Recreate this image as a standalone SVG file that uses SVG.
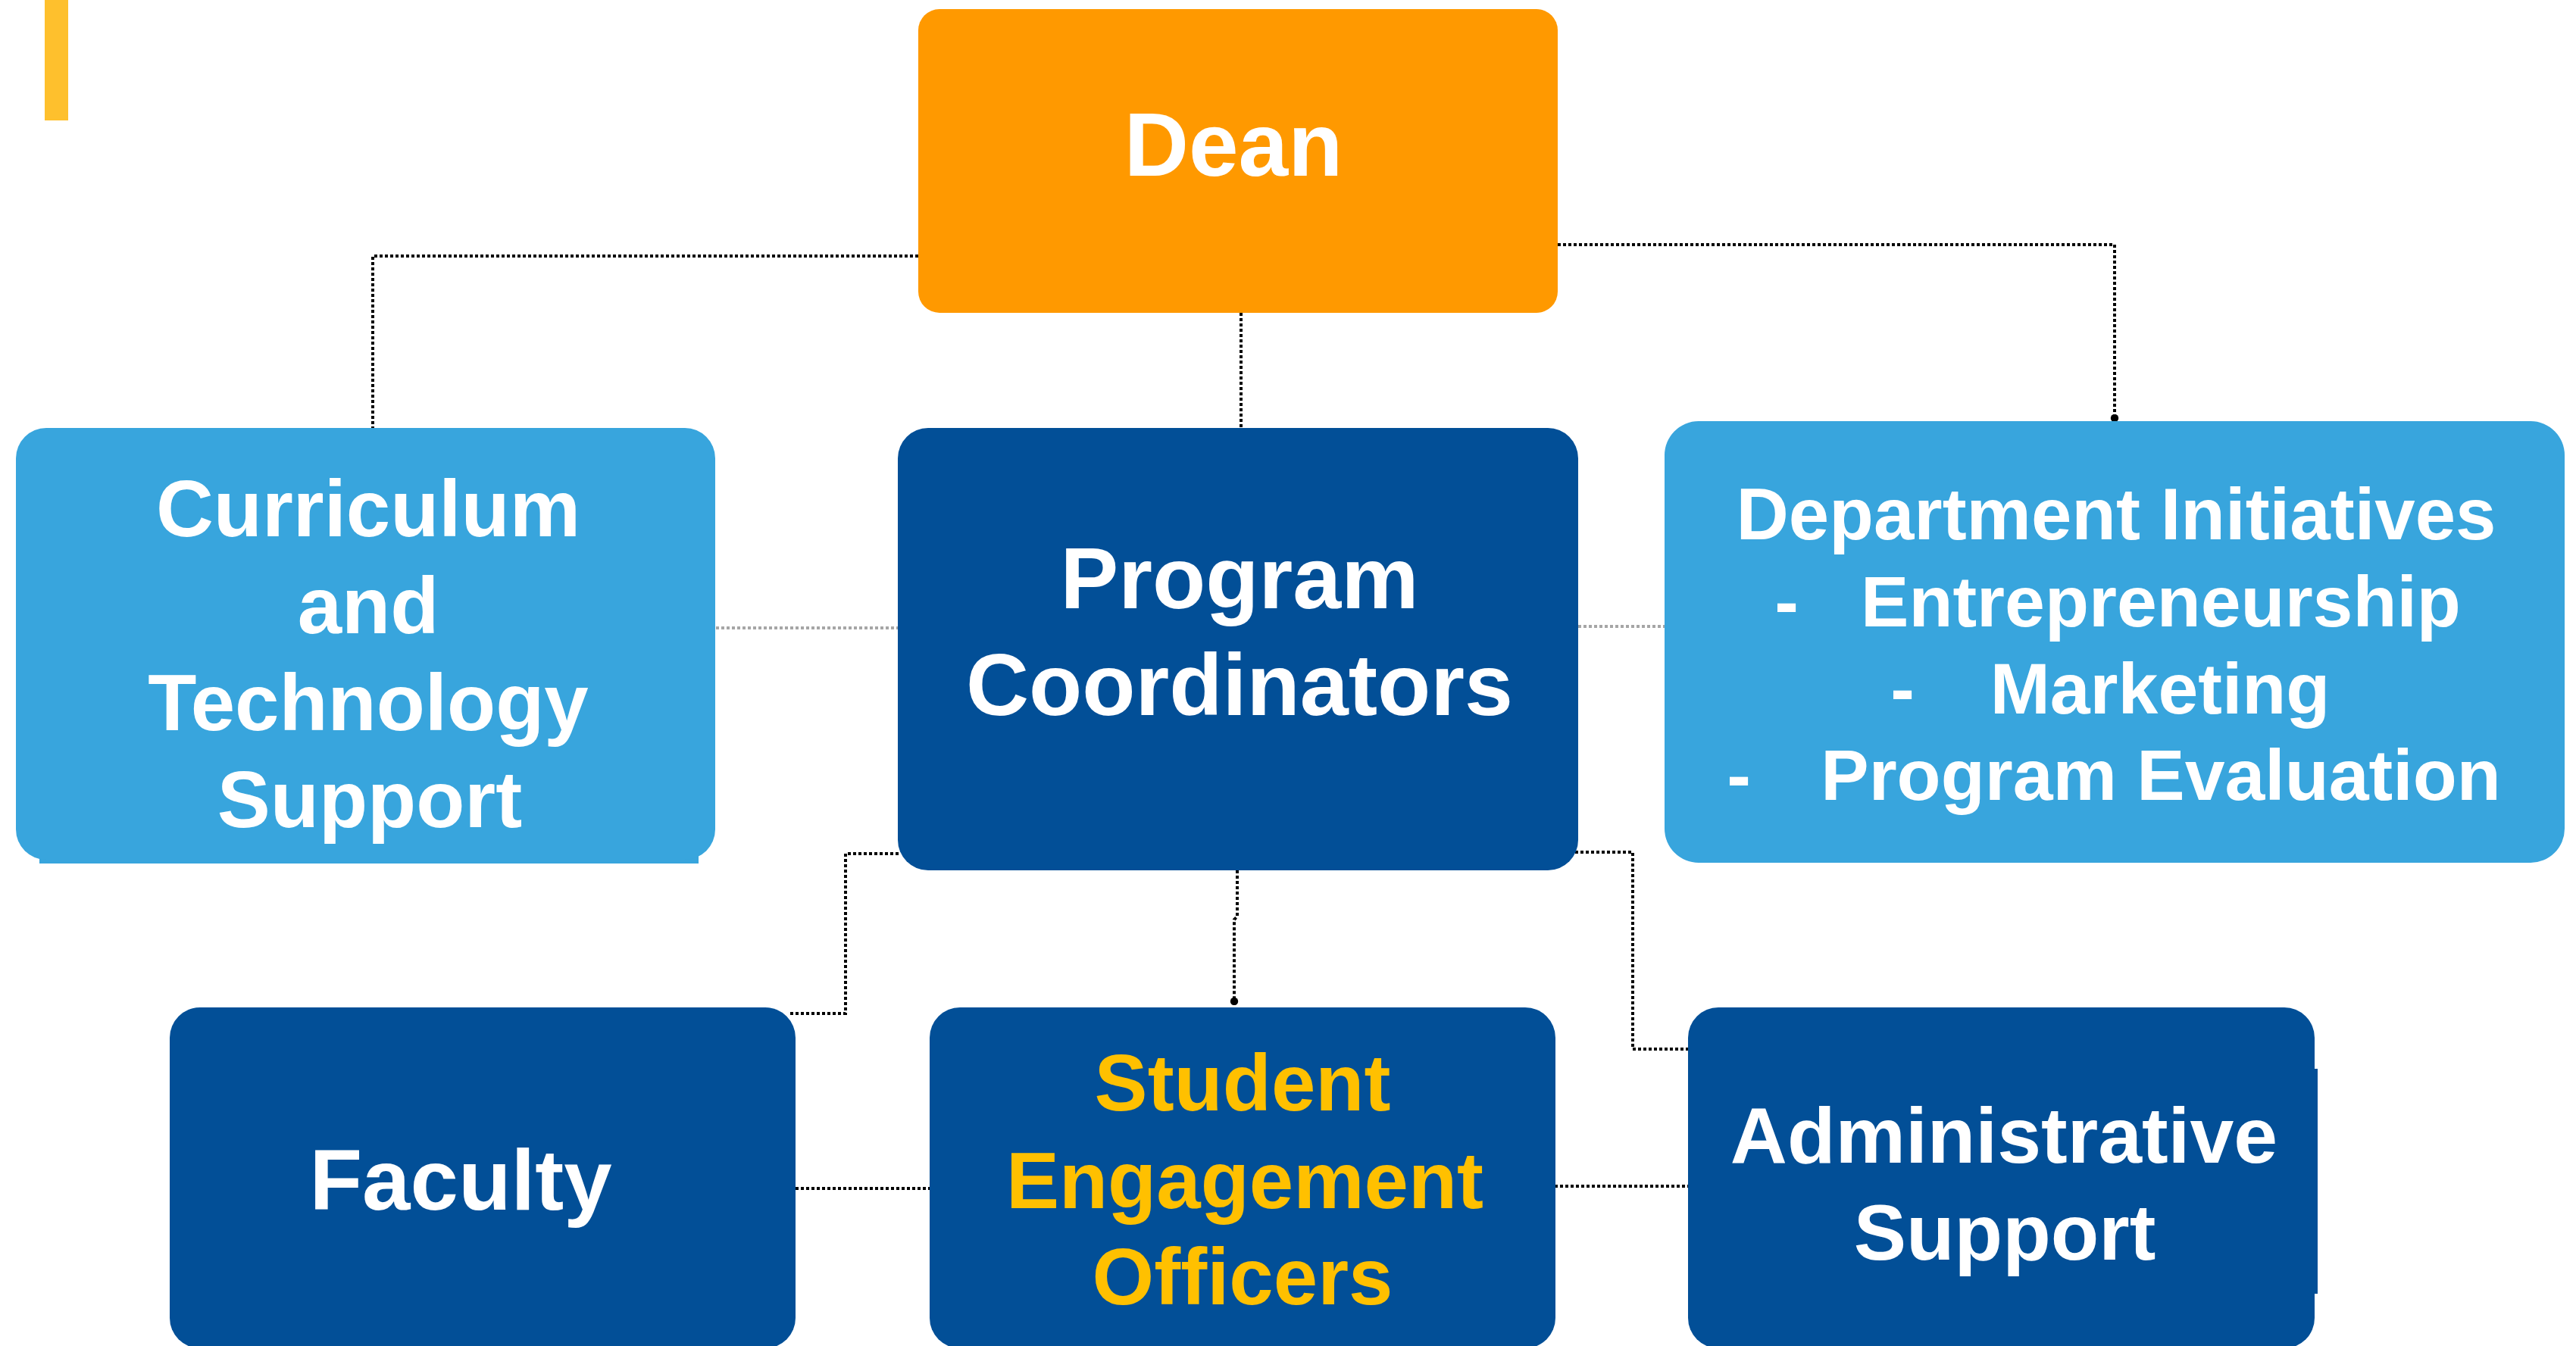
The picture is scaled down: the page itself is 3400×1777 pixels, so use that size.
<svg xmlns="http://www.w3.org/2000/svg" width="3400" height="1777" viewBox="0 0 3400 1777">
  <defs>
    <style>
      .lbl { font-family: "Liberation Sans", Arial, sans-serif; font-weight: bold; text-anchor: middle; fill: #FFFFFF; }
      .gold { fill: #FFC000; }
      .orange { fill: #FF9900; }
      .light { fill: #38A5DD; }
      .dark { fill: #024F97; }
      .link { fill: none; stroke: #000000; stroke-width: 4; stroke-dasharray: 4 3; }
      .soft { fill: none; stroke: #A6A6A6; stroke-width: 4; stroke-dasharray: 4 3; }
    </style>
    <marker id="dot" viewBox="0 0 10 10" refX="5" refY="5" markerWidth="2.6" markerHeight="3" markerUnits="strokeWidth" orient="auto">
      <circle cx="5" cy="5" r="5" fill="#000000"/>
    </marker>
  </defs>

  <rect width="3400" height="1777" fill="#FFFFFF"/>

  <!-- accent bar -->
  <rect x="59" y="0" width="31" height="159" fill="#FEC02D"/>

  <!-- connectors -->
  <g id="connectors">
    <path class="link" d="M1212,338 H492 V565"/>
    <path class="link" d="M1638,413 V564"/>
    <path class="link" d="M2056,323 H2791 V552" marker-end="url(#dot)"/>
    <path class="soft" d="M945,829 H1185"/>
    <path class="soft" d="M2083,827 H2197"/>
    <path class="link" d="M1186,1127 H1116 V1338 H1041"/>
    <path class="link" d="M1633,1149 V1210 L1629,1214 V1322" marker-end="url(#dot)"/>
    <path class="link" d="M2079,1125 H2155 V1385 H2228"/>
    <path class="link" d="M1050,1569 H1227"/>
    <path class="link" d="M2052,1566 H2228"/>
  </g>

  <g id="dean">
    <rect class="orange" x="1212" y="12" width="844" height="401" rx="28" ry="28"/>
    <text class="lbl" x="1628" y="232" font-size="118">Dean</text>
  </g>

  <g id="curriculum-technology">
    <rect class="light" x="52" y="1100" width="870" height="40"/>
    <rect class="light" x="21" y="565" width="923" height="570" rx="40" ry="40"/>
    <g class="lbl" font-size="105">
      <text x="486" y="708">Curriculum</text>
      <text x="486" y="836">and</text>
      <text x="486" y="964">Technology</text>
      <text x="488" y="1092">Support</text>
    </g>
  </g>

  <g id="program-coordinators">
    <rect class="dark" x="1185" y="565" width="898" height="584" rx="40" ry="40"/>
    <g class="lbl" font-size="115">
      <text x="1636" y="803">Program</text>
      <text x="1636" y="944">Coordinators</text>
    </g>
  </g>

  <g id="department-initiatives">
    <rect class="light" x="2197" y="556" width="1188" height="583" rx="45" ry="45"/>
    <text class="lbl" x="2793" y="712" font-size="96">Department Initiatives</text>
    <g class="lbl" font-size="95">
      <text x="2358" y="827">-</text>
      <text x="2852" y="827">Entrepreneurship</text>
      <text x="2511" y="942">-</text>
      <text x="2851" y="942">Marketing</text>
      <text x="2295" y="1056">-</text>
      <text x="2852" y="1056">Program Evaluation</text>
    </g>
  </g>

  <g id="faculty">
    <rect class="dark" x="224" y="1330" width="826" height="450" rx="40" ry="40"/>
    <text class="lbl" x="608" y="1597" font-size="114">Faculty</text>
  </g>

  <g id="student-engagement">
    <rect class="dark" x="1227" y="1330" width="826" height="450" rx="40" ry="40"/>
    <g class="lbl gold" font-size="105">
      <text x="1640" y="1466">Student</text>
      <text x="1643" y="1595">Engagement</text>
      <text x="1640" y="1722">Officers</text>
    </g>
  </g>

  <g id="administrative-support">
    <rect class="dark" x="3040" y="1411" width="19" height="297"/>
    <rect class="dark" x="2228" y="1330" width="827" height="450" rx="40" ry="40"/>
    <g class="lbl" font-size="104">
      <text x="2645" y="1535">Administrative</text>
      <text x="2646" y="1663">Support</text>
    </g>
  </g>
</svg>
